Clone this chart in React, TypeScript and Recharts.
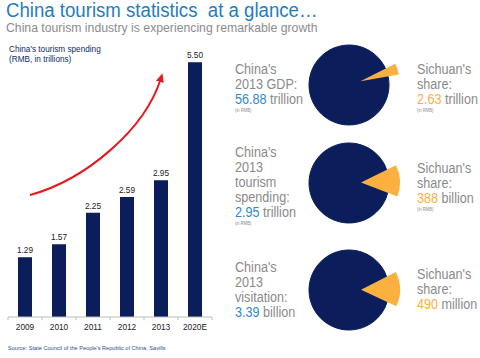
import { BarChart, Bar, XAxis, YAxis, LabelList, PieChart, Pie, Cell } from "recharts";

// Bar chart: China's tourism spending (RMB, in trillions)
const years = ["2009", "2010", "2011", "2012", "2013", "2020E"];
const spending = [1.29, 1.57, 2.25, 2.59, 2.95, 5.5];

// Pies: China 2013 totals vs Sichuan's share
const pieLabels = [["China's", "2013 GDP:"], ["China's", "2013", "tourism", "spending:"], ["China's", "2013", "visitation:"]];
const chinaValues = [56.88, 2.95, 3.39];
const chinaUnits = ["trillion", "trillion", "billion"];
const sichuanValues = [2.63, 388, 490];
const sichuanUnits = ["trillion", "billion", "million"];
const inRmb = [true, true, false];

const unitScale: Record<string, number> = { trillion: 1e12, billion: 1e9, million: 1e6 };

const NAVY = "#0b1e5b";
const ORANGE = "#fbb03f";
const BLUE = "#2a8ad4";
const GREY = "#8a8a8a";
const BAND = 34;

const barData = years.map((y, i) => ({ year: y, value: spending[i] }));

const pieData = chinaValues.map((c, i) => {
    const total = c * unitScale[chinaUnits[i]];
    const share = sichuanValues[i] * unitScale[sichuanUnits[i]];
    return [
        { name: "Sichuan", value: share },
        { name: "Rest of China", value: total - share },
    ];
});

// layout for the three pies
const pieCy = [85, 183, 290];
const pieStart = [10, -21, -25];
const leftTop = [61.6, 144.6, 259.6];
const rightTop = [61.6, 160.6, 266.6];
const PIE_CX = 49;
const EXPLODE = 12;

function YearTick(props: any) {
    const { x, y, payload, index } = props;
    return (
        <g>
            <line x1={x - BAND / 2} x2={x - BAND / 2} y1={y} y2={y + 3} stroke="#bdbdbd" />
            {index === years.length - 1 && (
                <line x1={x + BAND / 2} x2={x + BAND / 2} y1={y} y2={y + 3} stroke="#bdbdbd" />
            )}
            <text x={x} y={y + 12.5} textAnchor="middle" fontSize={8.3} fill="#222">
                {payload.value}
            </text>
        </g>
    );
}

function TextBlock({ left, top, lines, num, unit, numColor, note }: any) {
    return (
        <div
            style={{
                position: "absolute",
                left,
                top,
                fontSize: 14,
                lineHeight: "15px",
                color: GREY,
                whiteSpace: "nowrap",
                transform: "scaleX(0.9)",
                transformOrigin: "left top",
            }}
        >
            {lines.map((l: string) => (
                <div key={l}>{l}</div>
            ))}
            <div>
                <span style={{ color: numColor }}>{num}</span> {unit}
            </div>
            {note && <div style={{ fontSize: 4.6, lineHeight: "7px" }}>(in RMB)</div>}
        </div>
    );
}

export default function App() {
    return (
        <div
            style={{
                position: "absolute",
                left: 0,
                top: 0,
                width: 480,
                height: 358,
                background: "#fff",
                fontFamily: "'Liberation Sans', Arial, sans-serif",
                overflow: "hidden",
            }}
        >
            <div
                style={{
                    position: "absolute",
                    left: 6,
                    top: 1.2,
                    fontSize: 19.5,
                    lineHeight: 1,
                    color: "#1f7cc2",
                    whiteSpace: "pre",
                    transform: "scaleX(0.955)",
                    transformOrigin: "left top",
                }}
            >
                {"China tourism statistics  at a glance…"}
            </div>
            <div
                style={{
                    position: "absolute",
                    left: 6,
                    top: 21,
                    fontSize: 13.6,
                    lineHeight: 1,
                    color: "#8c8c8c",
                    whiteSpace: "nowrap",
                    transform: "scaleX(0.9)",
                    transformOrigin: "left top",
                }}
            >
                China tourism industry is experiencing remarkable growth
            </div>
            <div
                style={{
                    position: "absolute",
                    left: 9,
                    top: 44,
                    fontSize: 9,
                    lineHeight: "10px",
                    color: "#0d2a6b",
                    whiteSpace: "nowrap",
                    transform: "scaleX(0.91)",
                    transformOrigin: "left top",
                }}
            >
                <div>China's tourism spending</div>
                <div>(RMB, in trillions)</div>
            </div>

            <div style={{ position: "absolute", left: 0, top: 0 }}>
                <BarChart
                    width={220}
                    height={340}
                    data={barData}
                    margin={{ top: 39, right: 8, left: 8, bottom: 0 }}
                    barSize={14}
                >
                    <XAxis
                        dataKey="year"
                        height={23}
                        axisLine={{ stroke: "#bdbdbd" }}
                        tickLine={false}
                        tickSize={0}
                        tickMargin={0}
                        interval={0}
                        tick={<YearTick />}
                    />
                    <YAxis hide domain={[0, 6]} />
                    <Bar dataKey="value" fill={NAVY} isAnimationActive={false}>
                        <LabelList
                            dataKey="value"
                            position="top"
                            offset={4}
                            fontSize={8.3}
                            fill="#222"
                            formatter={(v: any) => Number(v).toFixed(2)}
                        />
                    </Bar>
                </BarChart>
            </div>

            <svg style={{ position: "absolute", left: 0, top: 0 }} width={230} height={340}>
                <defs>
                    <marker
                        id="arrowHead"
                        markerUnits="userSpaceOnUse"
                        markerWidth={9}
                        markerHeight={8}
                        refX={4}
                        refY={4}
                        orient="auto"
                    >
                        <path d="M0,0 L9,4 L0,8 Z" fill="#e8191e" />
                    </marker>
                </defs>
                <path
                    d="M30,195 C85,180 145,130 161,78"
                    fill="none"
                    stroke="#e8191e"
                    strokeWidth={2}
                    markerEnd="url(#arrowHead)"
                />
            </svg>

            <div
                style={{
                    position: "absolute",
                    left: 8,
                    top: 344,
                    fontSize: 5.6,
                    lineHeight: "8px",
                    color: "#2d4f8e",
                    whiteSpace: "nowrap",
                }}
            >
                Source: State Council of the People's Republic of China, Savills
            </div>

            <div style={{ position: "absolute", left: 300, top: 0 }}>
                <PieChart width={110} height={358} margin={{ top: 0, right: 0, bottom: 0, left: 0 }}>
                    {pieData.map((d, i) => {
                        const frac = d[0].value / (d[0].value + d[1].value);
                        const mid = ((pieStart[i] + (360 * frac) / 2) * Math.PI) / 180;
                        return [
                            <Pie
                                key={"base" + i}
                                data={d}
                                dataKey="value"
                                cx={PIE_CX}
                                cy={pieCy[i]}
                                outerRadius={40}
                                startAngle={pieStart[i]}
                                endAngle={pieStart[i] + 360}
                                stroke={NAVY}
                                strokeWidth={1}
                                isAnimationActive={false}
                            >
                                <Cell fill={NAVY} stroke={NAVY} />
                                <Cell fill={NAVY} stroke={NAVY} />
                            </Pie>,
                            <Pie
                                key={"share" + i}
                                data={d}
                                dataKey="value"
                                cx={PIE_CX + EXPLODE * Math.cos(mid)}
                                cy={pieCy[i] - EXPLODE * Math.sin(mid)}
                                outerRadius={39}
                                startAngle={pieStart[i]}
                                endAngle={pieStart[i] + 360}
                                stroke="none"
                                isAnimationActive={false}
                            >
                                <Cell fill={ORANGE} />
                                <Cell fill="none" />
                            </Pie>,
                        ];
                    })}
                </PieChart>
            </div>

            {pieLabels.map((lines, i) => (
                <TextBlock
                    key={"l" + i}
                    left={235}
                    top={leftTop[i]}
                    lines={lines}
                    num={String(chinaValues[i])}
                    unit={chinaUnits[i]}
                    numColor={BLUE}
                    note={inRmb[i]}
                />
            ))}
            {sichuanValues.map((v, i) => (
                <TextBlock
                    key={"r" + i}
                    left={417}
                    top={rightTop[i]}
                    lines={["Sichuan's", "share:"]}
                    num={String(v)}
                    unit={sichuanUnits[i]}
                    numColor={ORANGE}
                    note={inRmb[i]}
                />
            ))}
        </div>
    );
}
